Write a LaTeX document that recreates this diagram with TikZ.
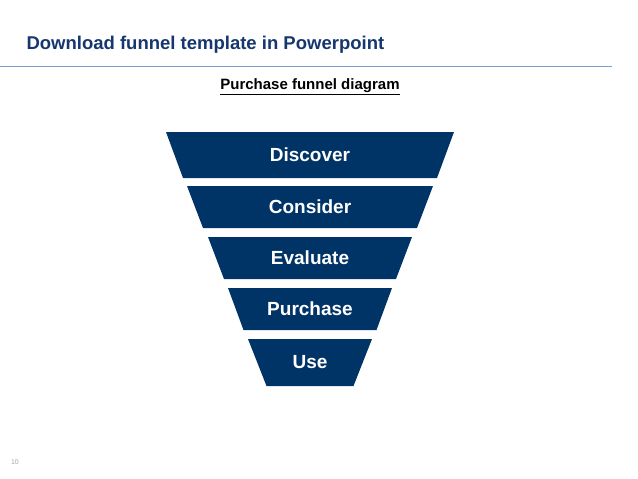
\documentclass[tikz,border=0pt]{standalone}
\usepackage{fontspec}
\setmainfont{Liberation Sans}
\definecolor{navy}{RGB}{0,51,102}
\definecolor{titleblue}{RGB}{22,54,110}
\definecolor{rulecol}{RGB}{120,160,205}
\tikzset{
  layer/.style={fill=navy, draw=none},
  layerlabel/.style={text=white, font=\bfseries\fontsize{19}{22}\selectfont}
}
\begin{document}
\begin{tikzpicture}[x=1pt, y=-1pt]
    \useasboundingbox (0,0) rectangle (638,479);
    % Title and rule
    \node[anchor=west, text=titleblue, font=\bfseries\fontsize{18.5}{22}\selectfont] (title) at (23,45) {Download funnel template in Powerpoint};
    \coordinate (ruleL) at (0,66);
    \coordinate (ruleR) at (612,66);
    \draw[rulecol, line width=0.8pt] (ruleL) -- (ruleR);
    \node[font=\bfseries\fontsize{15}{18}\selectfont] (subtitle) at (310,87) {\underline{Purchase funnel diagram}};

    % Funnel layers: top y / bottom y / top half width / bottom half width / label
    \foreach \n/\yt/\yb/\wt/\wb/\txt in {disc/132/178/144/127/Discover,
                                       cons/186/228/123/107/Consider,
                                       eval/237/279/102/86/Evaluate,
                                       purc/288/330/82/66.5/Purchase,
                                       use/339/386/62/43.5/Use} {
        \fill[layer] (310-\wt,\yt) -- (310+\wt,\yt) -- (310+\wb,\yb) -- (310-\wb,\yb) -- cycle;
        \node[layerlabel] (\n) at (310,{(\yt+\yb)/2}) {\txt};
    }

    % Page number
    \node[text=gray!70, font=\fontsize{7}{8}\selectfont] (pagenum) at (15,462) {10};
\end{tikzpicture}
\end{document}
